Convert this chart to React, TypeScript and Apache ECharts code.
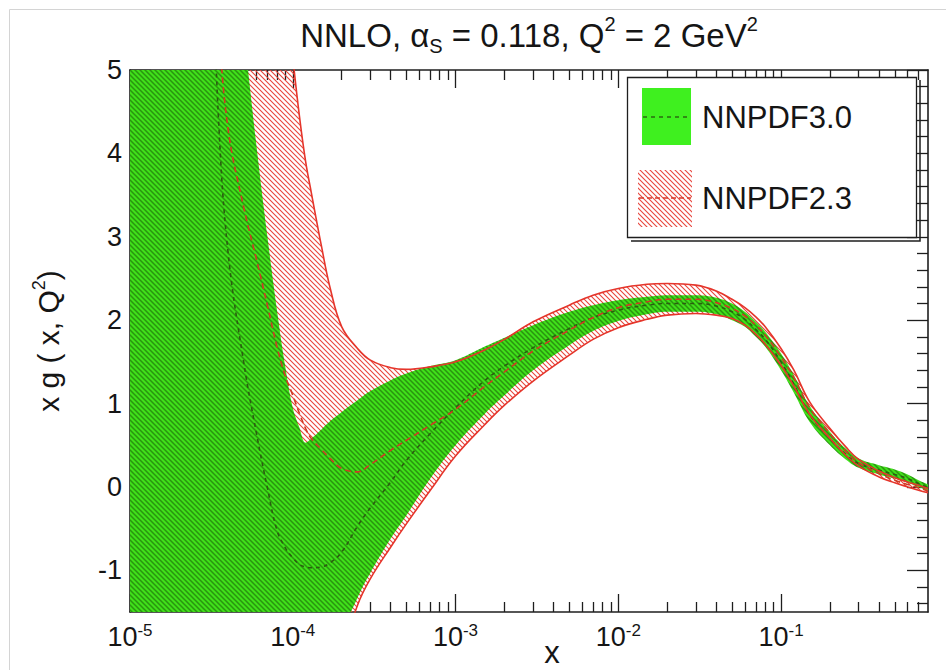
import React, { useEffect, useRef } from 'react';
import * as echarts from 'echarts';

// Momentum fraction grid (log spaced) shared by every curve
const xValues = [
  1e-5, 1.5e-5, 2e-5, 3e-5, 3.5e-5, 4e-5, 5e-5, 6e-5, 7e-5, 8e-5, 9e-5,
  1e-4, 1.1e-4, 1.2e-4, 1.3e-4, 1.5e-4, 1.7e-4, 2e-4, 2.5e-4, 3e-4, 4e-4, 5e-4, 7e-4,
  1e-3, 1.5e-3, 2e-3, 3e-3, 5e-3, 7e-3,
  1e-2, 1.5e-2, 2e-2, 3e-2, 4e-2, 5e-2, 6e-2, 7e-2, 8e-2,
  0.1, 0.12, 0.15, 0.2, 0.25, 0.3, 0.4, 0.5, 0.6, 0.7, 0.8,
];

// NNPDF3.0 gluon: upper / lower edge of the uncertainty band and central value
const nnpdf30Upper = [
  10, 9.6, 9.2, 8.4, 7.8, 7.0, 5.45, 4.07, 2.99, 2.12, 1.44,
  0.95, 0.71, 0.53, 0.58, 0.69, 0.79, 0.9, 1.04, 1.15, 1.28, 1.36, 1.45,
  1.52, 1.68, 1.79, 1.94, 2.1, 2.18,
  2.24, 2.28, 2.3, 2.3, 2.27, 2.2, 2.1, 1.98, 1.86,
  1.6, 1.34, 0.97, 0.66, 0.46, 0.34, 0.26, 0.21, 0.15, 0.08, 0.03,
];
const nnpdf30Lower = [
  -4, -4, -4, -4, -4, -4, -4, -4, -4, -4, -4,
  -4, -3.9, -3.8, -3.6, -3.2, -2.6, -1.8, -1.33, -1.03, -0.62, -0.34, 0.1,
  0.5, 0.87, 1.1, 1.4, 1.7, 1.87,
  1.99, 2.07, 2.1, 2.1, 2.07, 2.0, 1.92, 1.8, 1.68,
  1.4, 1.13, 0.78, 0.5, 0.33, 0.23, 0.15, 0.1, 0.05, 0.0, -0.04,
];
const nnpdf30Central = [
  14, 12, 10.5, 7.5, 4.4, 2.82, 1.49, 0.63, -0.02, -0.52, -0.73,
  -0.85, -0.93, -0.96, -0.97, -0.96, -0.91, -0.78, -0.47, -0.25, 0.06, 0.32, 0.64,
  0.95, 1.27, 1.45, 1.67, 1.9, 2.03,
  2.12, 2.18, 2.2, 2.2, 2.17, 2.1, 2.01, 1.89, 1.77,
  1.5, 1.23, 0.87, 0.58, 0.39, 0.28, 0.2, 0.15, 0.1, 0.04, -0.01,
];

// NNPDF2.3 gluon: upper / lower edge of the uncertainty band and central value
const nnpdf23Upper = [
  14, 13.5, 13, 12, 11.5, 11, 10, 9, 8, 7, 6,
  5.15, 4.44, 3.9, 3.53, 2.89, 2.38, 1.92, 1.66, 1.52, 1.43, 1.41, 1.44,
  1.5, 1.64, 1.77, 1.98, 2.18, 2.3,
  2.38, 2.43, 2.44, 2.42, 2.35, 2.25, 2.15, 2.04, 1.92,
  1.66, 1.4, 1.02, 0.7, 0.48, 0.33, 0.19, 0.11, 0.06, 0.02, -0.02,
];
const nnpdf23Lower = [
  -6, -6, -6, -6, -6, -6, -6, -6, -6, -6, -6,
  -5.8, -5.5, -5.2, -4.9, -4.2, -3.3, -2.05, -1.42, -1.1, -0.72, -0.44, -0.04,
  0.37, 0.74, 0.98, 1.27, 1.58, 1.77,
  1.91, 2.01, 2.06, 2.08, 2.06, 2.02, 1.94, 1.83, 1.71,
  1.46, 1.21, 0.87, 0.58, 0.38, 0.25, 0.12, 0.05, 0.0, -0.04, -0.07,
];
const nnpdf23Central = [
  16, 14, 12, 8, 5.6, 4.3, 3.35, 2.72, 2.17, 1.68, 1.33,
  1.1, 0.88, 0.7, 0.58, 0.45, 0.34, 0.22, 0.18, 0.27, 0.44, 0.56, 0.74,
  0.93, 1.2, 1.38, 1.63, 1.88, 2.03,
  2.15, 2.22, 2.25, 2.25, 2.21, 2.14, 2.05, 1.94, 1.82,
  1.56, 1.31, 0.95, 0.64, 0.43, 0.29, 0.16, 0.08, 0.03, -0.01, -0.045,
];

// Axis ranges and tick labels
const X_MIN = 1e-5;
const X_MAX = 0.8;
const Y_MIN = -1.5;
const Y_MAX = 5;
const xDecadeTicks = [1e-5, 1e-4, 1e-3, 1e-2, 1e-1];
const yTickLabels = [-1, 0, 1, 2, 3, 4, 5];

const legendNames = ['NNPDF3.0', 'NNPDF2.3'];

// Minor ticks: 2..9 within each decade, and steps of 0.2 on the y axis
const xMinorTicks: number[] = [];
for (let e = -5; e <= -1; e++) {
  for (let m = 2; m <= 9; m++) {
    const v = +(m * Math.pow(10, e)).toPrecision(3);
    if (v < X_MAX) xMinorTicks.push(v);
  }
}
const yMinorTicks: number[] = [];
for (let i = Math.ceil(Y_MIN * 5); i <= Y_MAX * 5; i++) {
  if (i % 5 !== 0) yMinorTicks.push(+(i / 5).toFixed(1));
}

const FONT = '"Liberation Sans", Arial, Helvetica, sans-serif';
const INK = '#151515';
const FRAME = '#1e1e1e';
const RED = '#e5352b';
const SMOOTH = 0.4;

const pairs = (ys: number[]) => xValues.map((x, i) => [x, ys[i]]);
// value first, x second: the stack is then computed on the value column
const stackPairs = (ys: number[]) => xValues.map((x, i) => [ys[i], x]);
const spread = (hi: number[], lo: number[]) => hi.map((v, i) => +(v - lo[i]).toFixed(4));

// Diagonal "\" hatch tile, optionally on a solid background
function hatchTile(size: number, lineWidth: number, stripe: string, background?: string) {
  const c = document.createElement('canvas');
  c.width = size;
  c.height = size;
  const ctx = c.getContext('2d')!;
  if (background) {
    ctx.fillStyle = background;
    ctx.fillRect(0, 0, size, size);
  }
  ctx.strokeStyle = stripe;
  ctx.lineWidth = lineWidth;
  ctx.beginPath();
  for (const off of [-size, 0, size]) {
    ctx.moveTo(-1, off - 1);
    ctx.lineTo(size + 1, off + size + 1);
  }
  ctx.stroke();
  return c;
}

export default function App() {
  const ref = useRef<HTMLDivElement>(null);

  useEffect(() => {
    const el = ref.current;
    if (!el) return;
    const chart = echarts.init(el, null, { renderer: 'svg' });

    const greenFill = { image: hatchTile(5, 1.5, '#2a9410', '#40e01a'), repeat: 'repeat' };
    const redHatch = { image: hatchTile(5, 1.1, '#e8453c'), repeat: 'repeat' };

    const tickLine = { color: FRAME, width: 1.3 };
    const frameLine = { show: true, onZero: false, lineStyle: { color: FRAME, width: 1.6 } };
    const hiddenLine = { show: false, onZero: false };
    const xBase = { type: 'log', logBase: 10, min: X_MIN, max: X_MAX, splitLine: { show: false } };
    const yBase = { type: 'value', min: Y_MIN, max: Y_MAX, splitLine: { show: false } };

    const common = {
      type: 'line',
      xAxisIndex: 0,
      yAxisIndex: 0,
      symbol: 'none',
      smooth: SMOOTH,
      silent: true,
      emphasis: { disabled: true },
    };
    const stacked = {
      ...common,
      stackStrategy: 'all',
      encode: { x: 1, y: 0 },
      lineStyle: { width: 0, opacity: 0 },
    };

    chart.setOption({
      animation: false,
      grid: { left: 130, right: 18, top: 70, bottom: 58, outerBoundsMode: 'none', containLabel: false },
      xAxis: [
        {
          ...xBase,
          position: 'bottom',
          axisLine: frameLine,
          axisTick: { inside: true, length: 18, customValues: xDecadeTicks, lineStyle: tickLine },
          axisLabel: {
            customValues: xDecadeTicks,
            formatter: (v: number) => `10{sup|${Math.round(Math.log10(v))}}`,
            margin: 10,
            color: INK,
            fontFamily: FONT,
            fontSize: 27,
            lineHeight: 30,
            rich: {
              sup: { fontSize: 17, lineHeight: 17, verticalAlign: 'top', fontFamily: FONT, color: INK },
            },
          },
          name: 'x',
          nameLocation: 'middle',
          nameGap: 26,
          nameMoveOverlap: false,
          nameTextStyle: { fontFamily: FONT, fontSize: 31, lineHeight: 28, color: INK, padding: [0, 0, 0, 46] },
        },
        {
          ...xBase,
          position: 'bottom',
          axisLine: hiddenLine,
          axisTick: { inside: true, length: 10, customValues: xMinorTicks, lineStyle: tickLine },
          axisLabel: { show: false },
        },
        {
          ...xBase,
          position: 'top',
          axisLine: frameLine,
          axisTick: { inside: true, length: 18, customValues: xDecadeTicks, lineStyle: tickLine },
          axisLabel: { show: false },
        },
        {
          ...xBase,
          position: 'top',
          axisLine: hiddenLine,
          axisTick: { inside: true, length: 10, customValues: xMinorTicks, lineStyle: tickLine },
          axisLabel: { show: false },
        },
      ],
      yAxis: [
        {
          ...yBase,
          position: 'left',
          axisLine: frameLine,
          axisTick: { inside: true, length: 21, customValues: yTickLabels, lineStyle: tickLine },
          axisLabel: { customValues: yTickLabels, margin: 8, color: INK, fontFamily: FONT, fontSize: 27 },
          name: 'x g ( x, Q{sup|2})',
          nameLocation: 'middle',
          nameRotate: 90,
          nameGap: 64,
          nameMoveOverlap: false,
          nameTextStyle: {
            fontFamily: FONT,
            fontSize: 30,
            lineHeight: 36,
            color: INK,
            rich: { sup: { fontSize: 18, lineHeight: 18, verticalAlign: 'top', fontFamily: FONT, color: INK } },
          },
        },
        {
          ...yBase,
          position: 'left',
          axisLine: hiddenLine,
          axisTick: { inside: true, length: 11, customValues: yMinorTicks, lineStyle: tickLine },
          axisLabel: { show: false },
        },
        {
          ...yBase,
          position: 'right',
          axisLine: frameLine,
          axisTick: { inside: true, length: 21, customValues: yTickLabels, lineStyle: tickLine },
          axisLabel: { show: false },
        },
        {
          ...yBase,
          position: 'right',
          axisLine: hiddenLine,
          axisTick: { inside: true, length: 11, customValues: yMinorTicks, lineStyle: tickLine },
          axisLabel: { show: false },
        },
      ],
      series: [
        // NNPDF2.3 hatched band: lower edge as base, band width stacked on top
        {
          ...stacked,
          name: 'nnpdf23-base',
          stack: 'nnpdf23',
          data: stackPairs(nnpdf23Lower),
        },
        {
          ...stacked,
          name: legendNames[1],
          stack: 'nnpdf23',
          data: stackPairs(spread(nnpdf23Upper, nnpdf23Lower)),
          areaStyle: { color: redHatch, opacity: 1 },
        },
        // NNPDF3.0 filled band
        {
          ...stacked,
          name: 'nnpdf30-base',
          stack: 'nnpdf30',
          data: stackPairs(nnpdf30Lower),
        },
        {
          ...stacked,
          name: legendNames[0],
          stack: 'nnpdf30',
          data: stackPairs(spread(nnpdf30Upper, nnpdf30Lower)),
          areaStyle: { color: greenFill, opacity: 1 },
        },
        {
          ...common,
          name: 'NNPDF3.0 central',
          data: pairs(nnpdf30Central),
          lineStyle: { color: '#2b5e10', width: 1.6, type: [4, 4] },
        },
        {
          ...common,
          name: 'NNPDF2.3 lower',
          data: pairs(nnpdf23Lower),
          lineStyle: { color: RED, width: 1.6 },
        },
        {
          ...common,
          name: 'NNPDF2.3 upper',
          data: pairs(nnpdf23Upper),
          lineStyle: { color: RED, width: 1.6 },
        },
        {
          ...common,
          name: 'NNPDF2.3 central',
          data: pairs(nnpdf23Central),
          lineStyle: { color: '#cf3a24', width: 1.6, type: [6, 4] },
        },
      ],
      graphic: [
        {
          type: 'rect',
          silent: true,
          z: -10,
          shape: { x: 9.5, y: 9.5, width: 960, height: 700 },
          style: { fill: 'none', stroke: '#d4d4d4', lineWidth: 1 },
        },
        {
          type: 'text',
          x: 529,
          y: 35,
          z: 100,
          style: {
            text: 'NNLO, α{sub|S} = 0.118, Q{sup|2} = 2 GeV{sup|2}',
            fontFamily: FONT,
            fontSize: 33,
            lineHeight: 42,
            fill: INK,
            align: 'center',
            textAlign: 'center',
            verticalAlign: 'middle',
            textVerticalAlign: 'middle',
            rich: {
              sub: { fontSize: 20, lineHeight: 20, verticalAlign: 'bottom', fontFamily: FONT, fill: INK },
              sup: { fontSize: 20, lineHeight: 20, verticalAlign: 'top', fontFamily: FONT, fill: INK },
            },
          },
        },
        // legend box with drop shadow
        {
          type: 'polyline',
          z: 100,
          shape: { points: [[631, 241], [920, 241], [920, 80]] },
          style: { stroke: FRAME, lineWidth: 1.5, fill: 'none' },
        },
        {
          type: 'rect',
          z: 100,
          shape: { x: 627.5, y: 77.5, width: 289, height: 160 },
          style: { fill: '#ffffff', stroke: FRAME, lineWidth: 1.3 },
        },
        {
          type: 'rect',
          z: 101,
          shape: { x: 642, y: 88, width: 49, height: 57 },
          style: { fill: '#3ff01f' },
        },
        {
          type: 'line',
          z: 102,
          shape: { x1: 643, y1: 117, x2: 690, y2: 117 },
          style: { stroke: '#2b6a12', lineWidth: 1.6, lineDash: [4, 4] },
        },
        {
          type: 'rect',
          z: 101,
          shape: { x: 638, y: 170, width: 54, height: 57 },
          style: { fill: redHatch },
        },
        {
          type: 'line',
          z: 102,
          shape: { x1: 639, y1: 198, x2: 691, y2: 198 },
          style: { stroke: '#d5392a', lineWidth: 1.6, lineDash: [5, 3] },
        },
        {
          type: 'text',
          z: 102,
          x: 702,
          y: 117,
          style: {
            text: legendNames[0],
            fontFamily: FONT,
            fontSize: 31,
            fill: INK,
            verticalAlign: 'middle',
            textVerticalAlign: 'middle',
          },
        },
        {
          type: 'text',
          z: 102,
          x: 702,
          y: 198,
          style: {
            text: legendNames[1],
            fontFamily: FONT,
            fontSize: 31,
            fill: INK,
            verticalAlign: 'middle',
            textVerticalAlign: 'middle',
          },
        },
      ],
    });

    return () => chart.dispose();
  }, []);

  return (
    <div
      ref={ref}
      style={{ position: 'fixed', left: 0, top: 0, width: 946, height: 670, background: '#ffffff' }}
    />
  );
}
